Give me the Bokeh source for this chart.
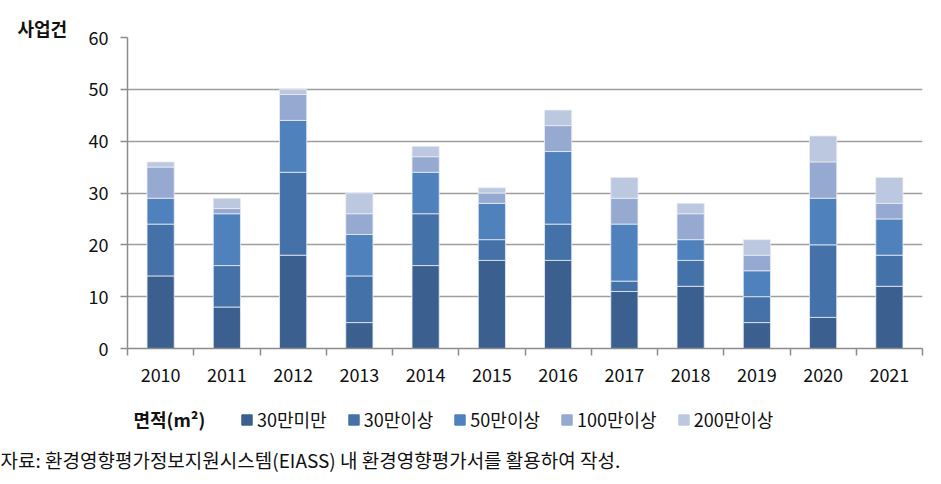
from bokeh.plotting import figure
from bokeh.layouts import column
from bokeh.models import ColumnDataSource, FixedTicker, Label, Legend, LegendItem, Range1d, Title
from bokeh.embed import file_html
from bokeh.resources import INLINE

years = ["2010", "2011", "2012", "2013", "2014", "2015", "2016", "2017", "2018", "2019", "2020", "2021"]
series = ["30만미만", "30만이상", "50만이상", "100만이상", "200만이상"]
s_lt30 = [14, 8, 18, 5, 16, 17, 17, 11, 12, 5, 6, 12]
s_30 = [10, 8, 16, 9, 10, 4, 7, 2, 5, 5, 14, 6]
s_50 = [5, 10, 10, 8, 8, 7, 14, 11, 4, 5, 9, 7]
s_100 = [6, 1, 5, 4, 3, 2, 5, 5, 5, 3, 7, 3]
s_200 = [1, 2, 1, 4, 2, 1, 3, 4, 2, 3, 5, 5]
colors = ["#3B5F8E", "#4472A8", "#4F81BD", "#95A9D1", "#BCC8E0"]
y_ticks = [0, 10, 20, 30, 40, 50, 60]

FONT = "Noto Sans CJK KR"
HA = 400  # height of chart figure
HB = 484 - HA  # height of legend/source figure
QB = 40  # bottom border of the lower figure (holds the source note)

xpos = [i + 0.5 for i in range(len(years))]
src = ColumnDataSource(dict(x=xpos, s0=s_lt30, s1=s_30, s2=s_50, s3=s_100, s4=s_200))
stackers = ["s0", "s1", "s2", "s3", "s4"]

p = figure(width=941, height=HA, output_backend="svg", toolbar_location=None,
           x_range=Range1d(0, len(years)), y_range=Range1d(0, 60))
p.min_border_left = 127
p.min_border_right = 19
p.min_border_top = 37
p.min_border_bottom = HA - 348
p.outline_line_color = None
p.background_fill_color = "white"
p.border_fill_color = "white"

p.vbar_stack(stackers, x="x", width=0.41, source=src,
             color=colors, line_color="#E8ECF4", line_width=0.8)

# axes
p.xaxis.ticker = FixedTicker(ticks=xpos, minor_ticks=list(range(len(years) + 1)))
p.xaxis.major_label_overrides = {x: y for x, y in zip(xpos, years)}
p.xaxis.major_tick_line_color = None
p.xaxis.major_tick_out = 0
p.xaxis.minor_tick_out = 7
p.xaxis.minor_tick_in = 0
p.xaxis.minor_tick_line_color = "#8C8C8C"
p.xaxis.minor_tick_line_width = 1.5
p.xaxis.axis_line_color = "#8C8C8C"
p.xaxis.axis_line_width = 1.5
p.xaxis.major_label_standoff = 12
p.xaxis.major_label_text_font = FONT
p.xaxis.major_label_text_font_size = "18px"
p.xaxis.major_label_text_color = "#111111"

p.yaxis.ticker = FixedTicker(ticks=y_ticks)
p.yaxis.minor_tick_line_color = None
p.yaxis.major_tick_out = 7
p.yaxis.major_tick_in = 0
p.yaxis.major_tick_line_color = "#8C8C8C"
p.yaxis.major_tick_line_width = 1.5
p.yaxis.axis_line_color = "#8C8C8C"
p.yaxis.axis_line_width = 1.5
p.yaxis.major_label_standoff = 12
p.yaxis.major_label_text_font = FONT
p.yaxis.major_label_text_font_size = "18px"
p.yaxis.major_label_text_color = "#111111"

p.xgrid.grid_line_color = None
p.ygrid.grid_line_color = "#9E9E9E"
p.ygrid.grid_line_width = 1.5
p.ygrid.ticker = FixedTicker(ticks=y_ticks)

# y label as title in the top panel
p.add_layout(Title(text="사업건", align="left", offset=-110, standoff=-6, vertical_align="bottom",
                   text_font=FONT, text_font_size="18px", text_font_style="bold",
                   text_color="#111111"), "above")

# ---- lower figure: legend + source note ----
q = figure(width=941, height=HB, output_backend="svg", toolbar_location=None,
           x_range=Range1d(0, 941), y_range=Range1d(0, HB),
           x_axis_location=None, y_axis_location=None)
q.min_border_left = 127
q.min_border_right = 19
q.min_border_top = 0
q.min_border_bottom = QB
q.outline_line_color = None
q.xgrid.grid_line_color = None
q.ygrid.grid_line_color = None
q.background_fill_color = "white"
q.border_fill_color = "white"

# hidden copies of the stacks, used only for the legend swatches
legend_rs = q.vbar_stack(stackers, x="x", width=0.41, source=src, color=colors, visible=False)

FRAME_B = HA + HB - QB  # page y of lower frame bottom
q.add_layout(Label(x=133 - 127, y=FRAME_B - 418, x_units="screen", y_units="screen", text="면적(m²)",
                   text_font=FONT, text_font_size="18px", text_font_style="bold",
                   text_baseline="middle", text_color="#111111"))

legend = Legend(items=[LegendItem(label=s, renderers=[r]) for s, r in zip(series, legend_rs)],
                orientation="horizontal", location=(240 - 127, FRAME_B - 432),
                glyph_width=13, glyph_height=13, label_standoff=4, spacing=20,
                padding=0, margin=0, border_line_color=None, background_fill_alpha=0,
                inactive_fill_alpha=0,
                label_text_font=FONT, label_text_font_size="18px", label_text_color="#111111",
                label_height=22)
q.add_layout(legend, "center")

q.add_layout(Title(text="자료: 환경영향평가정보지원시스템(EIASS) 내 환경영향평가서를 활용하여 작성.",
                   align="left", offset=-127, standoff=0, vertical_align="middle",
                   text_font=FONT, text_font_size="19px", text_font_style="normal",
                   text_color="#111111"), "below")

layout = column(p, q, spacing=0)
open("out.html", "w").write(file_html(layout, INLINE))
